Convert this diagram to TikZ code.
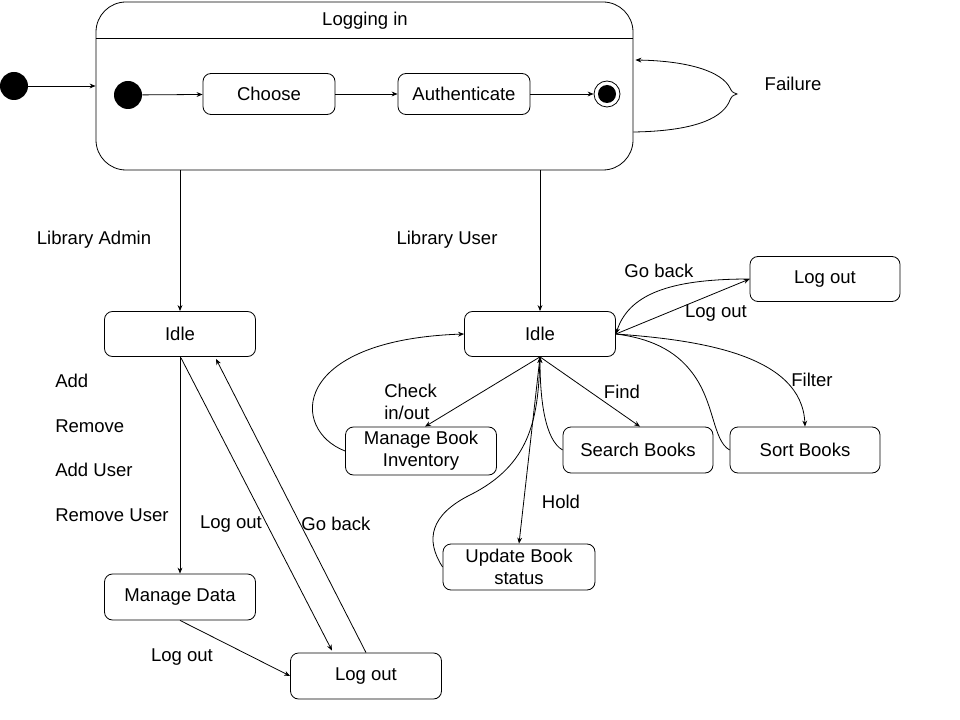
\documentclass[tikz,border=0pt]{standalone}
\usepackage{fontspec}
\setmainfont{Liberation Sans}
\usetikzlibrary{arrows.meta,calc}
\begin{document}
\begin{tikzpicture}[x=0.75pt,y=-0.75pt,
  every node/.style={font=\fontsize{13.9}{16.5}\selectfont},
  line/.style={draw=black,line width=0.6pt},
  arr/.style={line,-{Stealth[length=4.5pt,width=3.6pt]}},
  st/.style={draw,line width=0.6pt,rounded corners=6pt,minimum width=113.25pt,minimum height=34.5pt,inner sep=0pt,align=center},
  lbl/.style={inner sep=0pt}]
\useasboundingbox (0,0) rectangle (960,720);
% composite state
\node[draw,line width=0.6pt,rounded corners=22.5pt,minimum width=402.75pt,minimum height=126pt,inner sep=0pt] (login) at (364.5,86) {};
\draw[line] (96,38) -- (633,38);
\node[lbl] (title) at (365,21) {Logging in};
% initial states
\node[circle,fill,minimum size=21pt,inner sep=0pt] (init) at (14,86) {};
\draw[arr] (init) -- (init -| login.west);
\node[circle,fill,minimum size=21pt,inner sep=0pt] (iinit) at (128,95) {};
\node[st,minimum width=99pt,minimum height=30.75pt] (choose) at (269,94) {Choose};
\node[st,minimum width=99pt,minimum height=30.75pt] (auth) at (464,94) {Authenticate};
\node[circle,draw,line width=0.6pt,minimum size=19.5pt,inner sep=0pt] (fin) at (607,94) {};
\node[circle,fill,minimum size=13.5pt,inner sep=0pt] (finin) at (fin) {};
\draw[arr] (iinit) -- (choose);
\draw[arr] (choose) -- (auth);
\draw[arr] (auth) -- (fin);
% failure loop
\coordinate (fa) at ($(login.east)+(0,46)$);
\coordinate (fb) at ($(login.east)+(2,-26)$);
\coordinate (ftip) at (737,94);
\draw[arr] (fa) .. controls (700,131) and (724,116) .. (730,100)
  .. controls (732,96) .. (ftip) .. controls (732,92) .. (730,88)
  .. controls (722,72) and (690,61) .. (fb);
\node[lbl] (failure) at (793,84) {Failure};
% admin branch
\node[lbl] (ladmin) at (94,240) {Library Admin};
\node[st,minimum height=33.75pt] (aidle) at (180,334) {Idle};
\node[st] (mdata) at (180,597) {Manage Data};
\node[st] (blog) at (366,676) {Log out};
\draw[arr] (aidle.north |- login.south) -- (aidle.north);
\draw[arr] (aidle.south) -- (mdata.north);
\draw[arr] (mdata.south) -- (blog.west);
\draw[arr] ($(aidle.south)+(1,1)$) -- ($(blog.north)+(-34,-2)$);
\draw[arr] (blog.north) -- ($(aidle.south)+(36,2)$);
\node[lbl,anchor=west] (tadd) at (55,381) {Add};
\node[lbl,anchor=west] (trem) at (55,426) {Remove};
\node[lbl,anchor=west] (tau) at (55,470) {Add User};
\node[lbl,anchor=west] (tru) at (55,515) {Remove User};
\node[lbl] (tlo1) at (231,524) {Log out};
\node[lbl] (tgb1) at (336,524) {Go back};
\node[lbl] (tlo2) at (182,657) {Log out};
% user branch
\node[lbl] (luser) at (447,240) {Library User};
\node[st,minimum height=33.75pt] (uidle) at (540,334) {Idle};
\draw[arr] (uidle.north |- login.south) -- (uidle.north);
\node[st,minimum width=112.5pt,minimum height=33.75pt] (ulog) at (825,279) {Log out};
\node[st,minimum height=36pt] (mbi) at (421,451) {Manage Book\\Inventory};
\node[st,minimum width=112.5pt] (search) at (638,450) {Search Books};
\node[st,minimum width=112.5pt] (sort) at (805,450) {Sort Books};
\node[st,minimum width=114pt] (upd) at (519,567) {Update Book\\status};
% transitions
\draw[arr] (uidle.east) -- (ulog.west);
\draw[arr] (ulog.west) .. controls (680,279) and (630,290) .. (uidle.east);
\draw[arr] (uidle.south) -- ($(mbi.north)+(4,0)$);
\draw[arr] (mbi.west) .. controls (290,430) and (290,340) .. (uidle.west);
\draw[arr] (uidle.south) -- ($(search.north)+(2,0)$);
\draw[arr] (search.west) .. controls (545,440) and (540,400) .. (uidle.south);
\draw[arr] (uidle.south) -- (upd.north);
\draw[arr] (upd.west) .. controls (425,540) and (430,515) .. (470,495)
  .. controls (530,465) and (538,420) .. (uidle.south);
\draw[arr] (uidle.east) .. controls (700,340) and (802,355) .. (sort.north);
\draw[line] (sort.west) .. controls (712,440) and (715,400) .. (690,370)
  .. controls (670,345) and (640,337) .. (uidle.east);
\node[lbl,anchor=west,align=left] (tchk) at (384,402) {Check\\in/out};
\node[lbl] (tfind) at (622,392) {Find};
\node[lbl] (thold) at (561,502) {Hold};
\node[lbl] (tfilt) at (812,380) {Filter};
\node[lbl] (tgb2) at (659,271) {Go back};
\node[lbl] (tlo3) at (716,313) {Log out};
\end{tikzpicture}
\end{document}
